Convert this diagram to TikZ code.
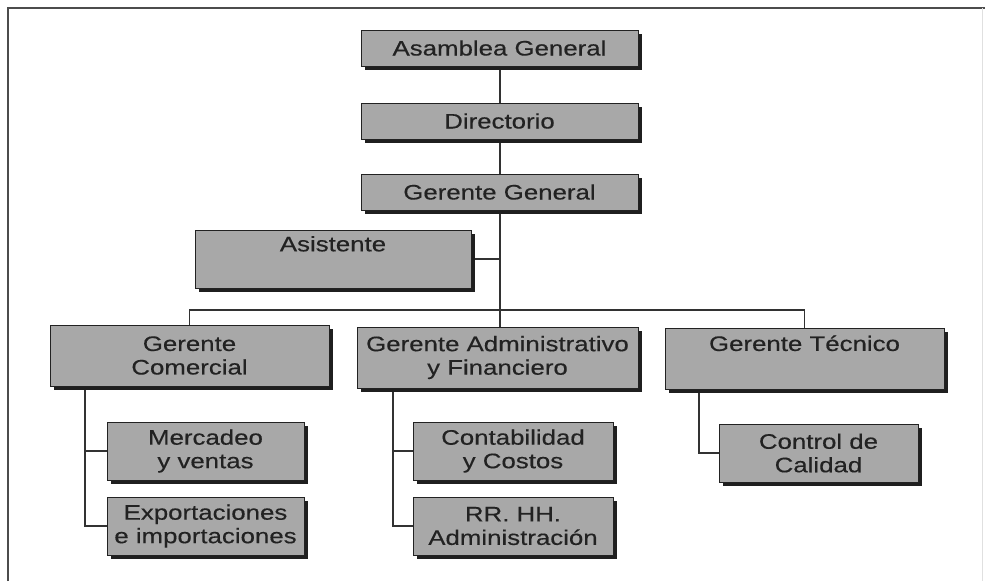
\documentclass[tikz,border=0pt]{standalone}
\usepackage{fontspec}
\setmainfont{Liberation Sans}[FakeStretch=1.23, FakeBold=0.35]
\usetikzlibrary{shadows,backgrounds}
\definecolor{boxgray}{RGB}{168,168,168}
\definecolor{ink}{RGB}{34,34,34}
\definecolor{wire}{RGB}{50,50,50}
\tikzset{
  unitbox/.style={draw=ink, line width=1pt, fill=boxgray, inner sep=0pt,
    align=center, text=ink, font=\fontsize{21}{23.5}\selectfont,
    general shadow={fill=black!88, shadow xshift=4pt, shadow yshift=-4pt}},
  wireline/.style={draw=wire, line width=1.8pt},
  framelink/.style={draw=black!70, line width=1.6pt}
}
\begin{document}
\begin{tikzpicture}[x=1pt,y=-1pt]
  \useasboundingbox (0,0) rectangle (985,581);
  % outer frame
  \draw[framelink] (8,581) -- (8,8) -- (985,8);
  \draw[draw=black!12, line width=1pt] (982,8) -- (982,581);

  % top of the hierarchy
  \node[unitbox, minimum width=277pt, minimum height=36pt] (AG) at (499.5,48) {Asamblea General};
  \node[unitbox, minimum width=277pt, minimum height=36pt] (DIR) at (499.5,121) {Directorio};
  \node[unitbox, minimum width=277pt, minimum height=36pt] (GG) at (499.5,192) {Gerente General};
  \node[unitbox, minimum width=276pt, minimum height=58pt] (ASI) at (333,259) {Asistente\\\strut};

  % second level
  \node[unitbox, minimum width=279pt, minimum height=61pt] (GC) at (189.5,355.5) {Gerente\\Comercial};
  \node[unitbox, minimum width=281pt, minimum height=61pt] (GAF) at (497.5,357.5) {Gerente Administrativo\\y Financiero};
  \node[unitbox, minimum width=279pt, minimum height=61pt] (GT) at (804.5,358.5) {Gerente Técnico\\\strut};

  % third level
  \node[unitbox, minimum width=197pt, minimum height=58pt] (MV) at (205.5,451) {Mercadeo\\y ventas};
  \node[unitbox, minimum width=197pt, minimum height=58pt] (EI) at (205.5,526) {Exportaciones\\e importaciones};
  \node[unitbox, minimum width=200pt, minimum height=58pt] (CC) at (513,451) {Contabilidad\\y Costos};
  \node[unitbox, minimum width=200pt, minimum height=58pt] (RH) at (513,526) {RR. HH.\\Administración};
  \node[unitbox, minimum width=199pt, minimum height=58pt] (CQ) at (818.5,453) {Control de\\Calidad};

  % helper coordinates for the bus and the branch rails
  \coordinate (bus) at (0,310);
  \coordinate (spine) at (500,0);
  \coordinate (railC) at (85,0);
  \coordinate (railA) at (393,0);
  \coordinate (railT) at (699,0);

  \begin{scope}[on background layer]
    \draw[wireline] (AG.south -| spine) -- (DIR.north -| spine);
    \draw[wireline] (DIR.south -| spine) -- (GG.north -| spine);
    \draw[wireline] (GG.south -| spine) -- (GAF.north -| spine);
    \draw[wireline] (ASI.east) -- (ASI.east -| spine);
    \draw[wireline] (GC.north) -- (GC.north |- bus) -- (GT.north |- bus) -- (GT.north);
    % commercial branch
    \draw[wireline] (GC.south -| railC) -- (EI.west -| railC) -- (EI.west);
    \draw[wireline] (MV.west -| railC) -- (MV.west);
    % administrative branch
    \draw[wireline] (GAF.south -| railA) -- (RH.west -| railA) -- (RH.west);
    \draw[wireline] (CC.west -| railA) -- (CC.west);
    % technical branch
    \draw[wireline] (GT.south -| railT) -- (CQ.west -| railT) -- (CQ.west);
  \end{scope}
\end{tikzpicture}
\end{document}
